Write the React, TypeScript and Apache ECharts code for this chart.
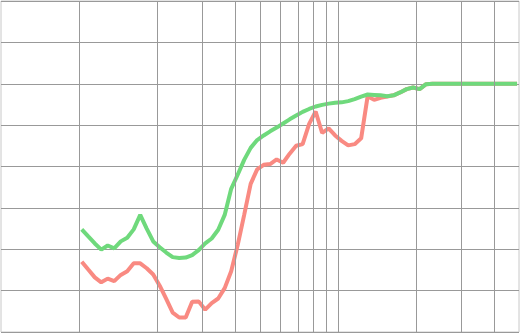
import React, { useEffect, useRef } from "react";
import * as echarts from "echarts";

// Frequencies (1/12-octave steps)
const freqs = [
  102.5, 108.6, 115.1, 121.9, 129.1, 136.8, 145.0, 153.6, 162.7, 172.4, 182.6, 193.5,
  205.0, 217.2, 230.1, 243.8, 258.3, 273.6, 289.9, 307.2, 325.4, 344.8, 365.3, 387.0,
  410.0, 434.4, 460.2, 487.6, 516.6, 547.3, 579.8, 614.3, 650.8, 689.5, 730.5, 774.0,
  820, 868.8, 920.4, 975.1, 1033, 1095, 1160, 1229, 1302, 1379, 1461, 1548,
  1640, 1738, 1841, 1950, 2066, 2189, 2319, 2457, 2603, 2758, 2922, 3096,
  3280, 3475, 3682, 3900, 4132, 4378, 4639, 4915,
];

const greenValues = [
  24.8, 23.1, 21.4, 19.9, 20.9, 20.2, 21.9, 22.8, 24.8, 28.3, 25.0, 21.9,
  20.5, 19.2, 18.1, 17.9, 18.0, 18.6, 19.8, 21.4, 22.6, 24.7, 28.3, 34.6,
  38.0, 41.6, 44.5, 46.4, 47.5, 48.5, 49.4, 50.4, 51.4, 52.3, 53.2, 53.9,
  54.5, 54.9, 55.2, 55.4, 55.5, 55.8, 56.3, 56.9, 57.4, 57.3, 57.2, 57.0,
  57.2, 57.9, 58.7, 59.1, 58.7, 59.9, 60, 60, 60, 60, 60, 60,
  60, 60, 60, 60, 60, 60, 60, 60,
];

const redValues = [
  17.0, 15.1, 13.2, 12.0, 12.9, 12.3, 13.8, 14.7, 16.6, 16.6, 15.4, 13.9,
  11.2, 8.0, 4.7, 3.5, 3.5, 7.3, 7.4, 5.4, 7.0, 8.1, 10.6, 14.7,
  21.0, 28.3, 35.8, 39.3, 40.4, 40.6, 41.7, 40.9, 43.1, 45.0, 45.4, 50.3,
  53.3, 48.1, 49.2, 47.5, 46.2, 45.1, 45.4, 46.8, 57.0, 56.1, 56.6, 56.9,
  57.2, 57.9, 58.7, 59.1, 58.7, 59.9, 60, 60, 60, 60, 60, 60,
  60, 60, 60, 60, 60, 60, 60, 60,
];

// Vertical grid lines of the log axis
const xGridLines = [100, 200, 300, 400, 500, 600, 700, 800, 900, 1000, 2000, 3000, 4000];

const X_MIN = 50;
const X_MAX = 5000;
const Y_MIN = 0;
const Y_MAX = 80;
const Y_STEP = 10;

export default function App() {
  const ref = useRef<HTMLDivElement>(null);

  useEffect(() => {
    if (!ref.current) return;
    const chart = echarts.init(ref.current, null, { renderer: "svg" });
    const gridColor = "#999";
    chart.setOption({
      animation: false,
      backgroundColor: "#fff",
      grid: {
        left: 1,
        right: 1,
        top: 1,
        bottom: 1,
        show: true,
        borderColor: "#c8c8c8",
        borderWidth: 1,
        containLabel: false,
      },
      xAxis: {
        type: "log",
        logBase: 10,
        min: X_MIN,
        max: X_MAX,
        axisLabel: { show: false },
        axisLine: { show: false },
        axisTick: { show: false },
        splitLine: { show: false },
      },
      yAxis: {
        type: "value",
        min: Y_MIN,
        max: Y_MAX,
        interval: Y_STEP,
        axisLabel: { show: false },
        axisLine: { show: false },
        axisTick: { show: false },
        splitLine: { show: true, lineStyle: { color: gridColor, width: 1 } },
      },
      series: [
        {
          type: "line",
          data: [],
          z: 1,
          silent: true,
          markLine: {
            silent: true,
            symbol: ["none", "none"],
            label: { show: false },
            lineStyle: { color: gridColor, width: 1, type: "solid" },
            emphasis: { disabled: true },
            data: xGridLines.map((v) => ({ xAxis: v })),
          },
        },
        {
          type: "line",
          z: 2,
          data: freqs.map((f, i) => [f, redValues[i]]),
          showSymbol: false,
          symbol: "none",
          lineStyle: { color: "#f98a82", width: 4 },
          itemStyle: { color: "#f98a82" },
        },
        {
          type: "line",
          z: 3,
          data: freqs.map((f, i) => [f, greenValues[i]]),
          showSymbol: false,
          symbol: "none",
          lineStyle: { color: "#6fd97c", width: 4 },
          itemStyle: { color: "#6fd97c" },
        },
      ],
    });
    return () => chart.dispose();
  }, []);

  return (
    <div
      ref={ref}
      style={{ position: "fixed", left: 0, top: 0, width: 520, height: 333, background: "#fff" }}
    />
  );
}
